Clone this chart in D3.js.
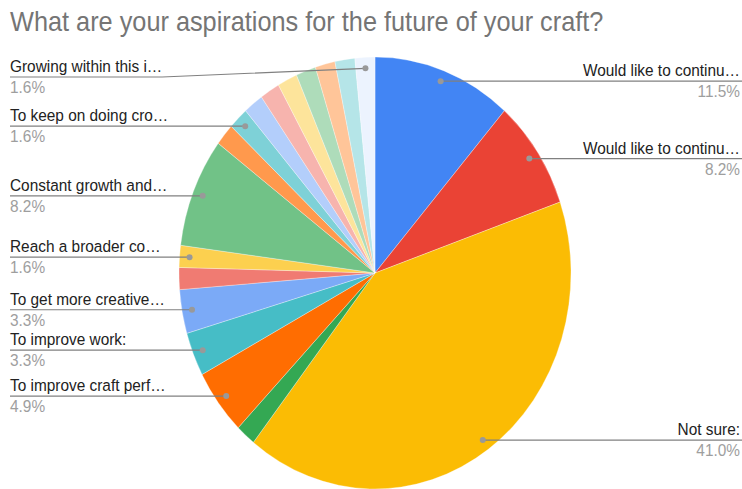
<!DOCTYPE html>
<html>
<head>
<meta charset="utf-8">
<script src="https://cdn.jsdelivr.net/npm/d3@7"></script>
<style>
  body { margin: 0; background: #fff; }
  text { font-family: "Liberation Sans", Arial, sans-serif; }
</style>
</head>
<body>
<div id="container"></div>
<script>
var width = 742,
    height = 489;

// responses per answer, clockwise from 12 o'clock (61 responses)
var counts = [7, 5, 25, 1, 3, 2, 2, 1, 1, 5, 1, 1, 1, 1, 1, 1, 1, 1, 1];
// labels as shown (empty = no label drawn for that slice)
var labels = ["Would like to continu\u2026", "Would like to continu\u2026", "Not sure:", "",
              "To improve craft perf\u2026", "To improve work:", "To get more creative\u2026", "",
              "Reach a broader co\u2026", "Constant growth and\u2026", "", "To keep on doing cro\u2026",
              "", "", "", "", "", "", "Growing within this i\u2026"];
var colors = ["#4285F4", "#EA4335", "#FBBC04", "#34A853", "#FF6D01", "#46BDC6", "#7BAAF7",
              "#F07B72", "#FCD04F", "#71C287", "#FF994D", "#7ED1D7", "#B3CEFB", "#F7B4AE",
              "#FDE49B", "#AEDCBA", "#FFC599", "#B5E5E8", "#ECF3FE"];

var cx = 375, cy = 273,
    radius = 196,
    yStretch = 216 / 196,   // picture is a bit taller than wide
    textStretch = 1.08,
    dotR = 186,
    topLimit = 77;

var total = d3.sum(counts);
var pct = d3.format(".1%");

var svg = d3.select("#container")
            .append("svg")
            .attr("width", width)
            .attr("height", height);

function place(x, y){
  return "translate(" + x + "," + y + ") scale(1," + textStretch + ")";
}

svg.append("text")
   .attr("transform", place(10, 31))
   .attr("fill", "#757575")
   .style("font-size", "25.3px")
   .text("What are your aspirations for the future of your craft?");

var pie = d3.pie().sort(null).value(function(d){ return d; });
var arc = d3.arc().innerRadius(0).outerRadius(radius);
var arcs = pie(counts);

var g = svg.append("g")
           .attr("transform", "translate(" + cx + "," + cy + ") scale(1," + yStretch + ")");

g.selectAll(".slice")
 .data(arcs)
 .enter().append("path")
 .attr("class", "slice")
 .attr("d", arc)
 .attr("fill", function(d, i){ return colors[i]; })
 .attr("stroke", "#fff")
 .attr("stroke-width", 0.3);

// labels
var lab = svg.append("g").attr("id", "labels");

arcs.forEach(function(d, i){
  if (!labels[i]) return;
  var a = (d.startAngle + d.endAngle) / 2;
  var dx = cx + dotR * Math.sin(a),
      dy = cy - dotR * Math.cos(a) * yStretch;
  var right = dx > cx;
  var ly = Math.max(dy, topLimit);
  var tx = right ? 740 : 10;

  var t = lab.append("text")
     .attr("transform", place(tx, ly - 5))
     .attr("text-anchor", right ? "end" : "start")
     .attr("fill", "#222")
     .style("font-size", "15.4px")
     .text(labels[i]);

  lab.append("text")
     .attr("transform", place(tx, ly + 16))
     .attr("text-anchor", right ? "end" : "start")
     .attr("fill", "#9e9e9e")
     .style("font-size", "15.4px")
     .text(pct(counts[i] / total));

  var tw = t.node().getComputedTextLength();
  var pts = right ? [[dx, dy], [742, ly]]
                  : [[10, ly], [10 + tw, ly], [dx, dy]];
  lab.append("path")
     .attr("d", d3.line()(pts))
     .attr("fill", "none")
     .attr("stroke", "#808080")
     .attr("stroke-width", 1.2);

  lab.append("circle")
     .attr("cx", dx)
     .attr("cy", dy)
     .attr("r", 3)
     .attr("fill", "#999");
});
</script>
</body>
</html>
